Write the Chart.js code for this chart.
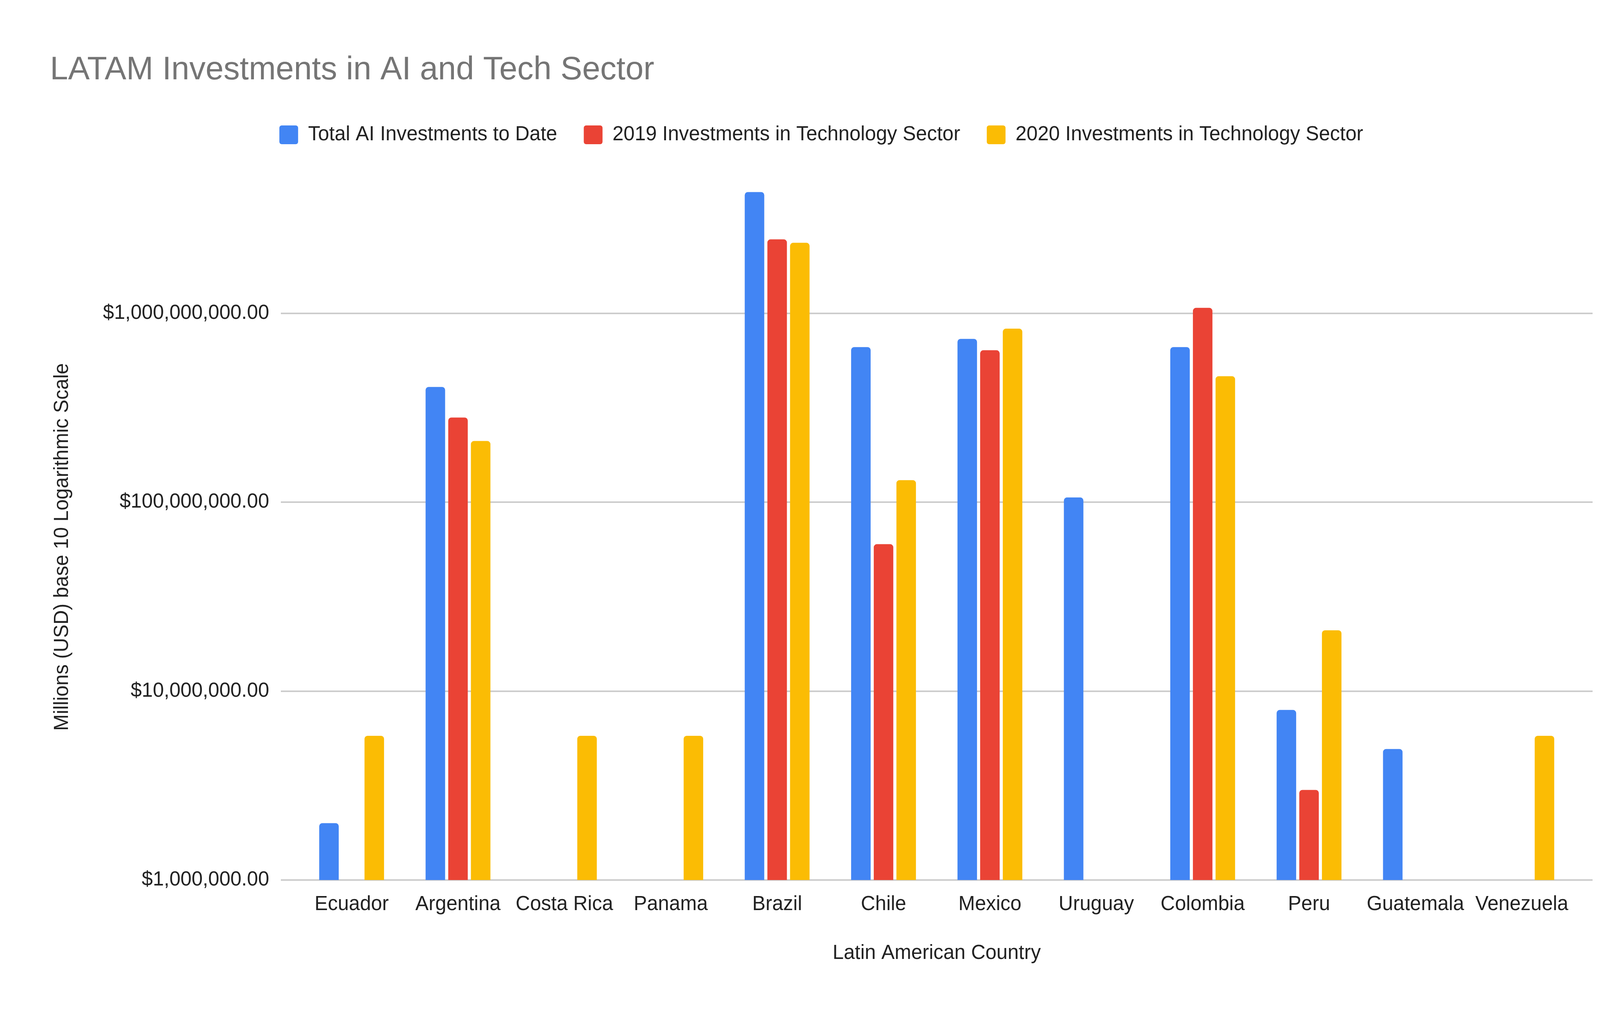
<!DOCTYPE html>
<html>
<head>
<meta charset="utf-8">
<script src="https://cdn.jsdelivr.net/npm/chart.js@4/dist/chart.umd.min.js"></script>
<style>
  html, body { margin: 0; padding: 0; background: #ffffff; }
  #wrap { width: 4209px; height: 2600px; }
</style>
</head>
<body>
<div id="wrap"><canvas id="c" width="4209" height="2600"></canvas></div>
<script>
const categories = ["Ecuador", "Argentina", "Costa Rica", "Panama", "Brazil", "Chile", "Mexico", "Uruguay", "Colombia", "Peru", "Guatemala", "Venezuela"];
const seriesNames = ["Total AI Investments to Date", "2019 Investments in Technology Sector", "2020 Investments in Technology Sector"];
const totalAI = [2000000, 408000000, null, null, 4390000000, 663000000, 733000000, 106000000, 663000000, 7950000, 4940000, null];
const invest2019 = [null, 281000000, null, null, 2465000000, 60000000, 638000000, null, 1070000000, 3000000, null, null];
const invest2020 = [5800000, 211000000, 5800000, 5800000, 2365000000, 131000000, 830000000, null, 465000000, 21000000, null, 5800000];
const yTickValues = [1000000, 10000000, 100000000, 1000000000];
const colors = ["#4285F4", "#EA4335", "#FBBC04"];

const FONT = "'Liberation Sans', Arial, Helvetica, sans-serif";
const Y_MIN = 1000000;
const Y_MAX = 3360000000;

function fmtMoney(v) {
  return "$" + Number(v).toLocaleString("en-US", { minimumFractionDigits: 2, maximumFractionDigits: 2 });
}
function setTicks(scale) {
  scale.ticks = yTickValues.map(v => ({ value: v }));
}

const barCommon = {
  borderRadius: 8,
  borderSkipped: "start",
  categoryPercentage: 0.6388,
  barPercentage: 0.862,
  clip: false,
  xAxisID: "x",
  yAxisID: "y"
};

new Chart(document.getElementById("c"), {
  type: "bar",
  data: {
    labels: categories,
    datasets: [
      Object.assign({ label: seriesNames[0], data: totalAI, backgroundColor: colors[0] }, barCommon),
      Object.assign({ label: seriesNames[1], data: invest2019, backgroundColor: colors[1] }, barCommon),
      Object.assign({ label: seriesNames[2], data: invest2020, backgroundColor: colors[2] }, barCommon)
    ]
  },
  options: {
    responsive: false,
    devicePixelRatio: 1,
    animation: false,
    layout: { padding: { left: 128, right: 132, top: 0, bottom: 0 } },
    plugins: {
      title: {
        display: true,
        text: "LATAM Investments in AI and Tech Sector",
        align: "start",
        color: "#757575",
        font: { family: FONT, size: 83, weight: "normal", lineHeight: 1.2 },
        padding: { top: 130.4, bottom: 21.6 }
      },
      legend: {
        display: true,
        position: "top",
        align: "center",
        labels: {
          color: "#222222",
          font: { family: FONT, size: 51 },
          boxWidth: 48,
          boxHeight: 48,
          padding: 68,
          useBorderRadius: true,
          borderRadius: 6
        }
      },
      tooltip: { enabled: false }
    },
    scales: {
      x: {
        type: "category",
        position: "bottom",
        offset: true,
        grid: { display: false },
        border: { display: false },
        ticks: {
          color: "#222222",
          font: { family: FONT, size: 51 },
          padding: 24.4,
          maxRotation: 0,
          minRotation: 0,
          autoSkip: false
        },
        title: {
          display: true,
          text: "Latin American Country",
          color: "#222222",
          font: { family: FONT, size: 51, lineHeight: 1.2 },
          padding: { top: 0, bottom: 129 }
        },
        afterFit(s) { s.height = 348; }
      },
      x2: {
        type: "category",
        position: "top",
        display: true,
        grid: { display: false },
        border: { display: false },
        ticks: { display: false },
        afterFit(s) { s.height = 167; }
      },
      y: {
        type: "logarithmic",
        position: "left",
        min: Y_MIN,
        max: Y_MAX,
        bounds: "data",
        afterBuildTicks: setTicks,
        grid: { color: "#cccccc", lineWidth: 4, drawTicks: true, tickLength: 45, tickColor: "#cccccc" },
        border: { display: false },
        ticks: {
          color: "#222222",
          font: { family: FONT, size: 51 },
          padding: 30,
          callback: (v) => fmtMoney(v)
        },
        title: {
          display: true,
          text: "Millions (USD) base 10 Logarithmic Scale",
          color: "#222222",
          font: { family: FONT, size: 51, lineHeight: 1.2 },
          padding: { top: 1.4, bottom: 0 }
        },
        afterFit(s) { s.width = 636; }
      },
      y2: {
        type: "logarithmic",
        position: "right",
        display: true,
        min: Y_MIN,
        max: Y_MAX,
        bounds: "data",
        afterBuildTicks: setTicks,
        grid: { color: "#cccccc", lineWidth: 4, drawOnChartArea: false, drawTicks: true, tickLength: 45, tickColor: "#cccccc" },
        border: { display: false },
        ticks: { display: false },
        afterFit(s) { s.width = 45; }
      }
    }
  }
});
</script>
</body>
</html>
